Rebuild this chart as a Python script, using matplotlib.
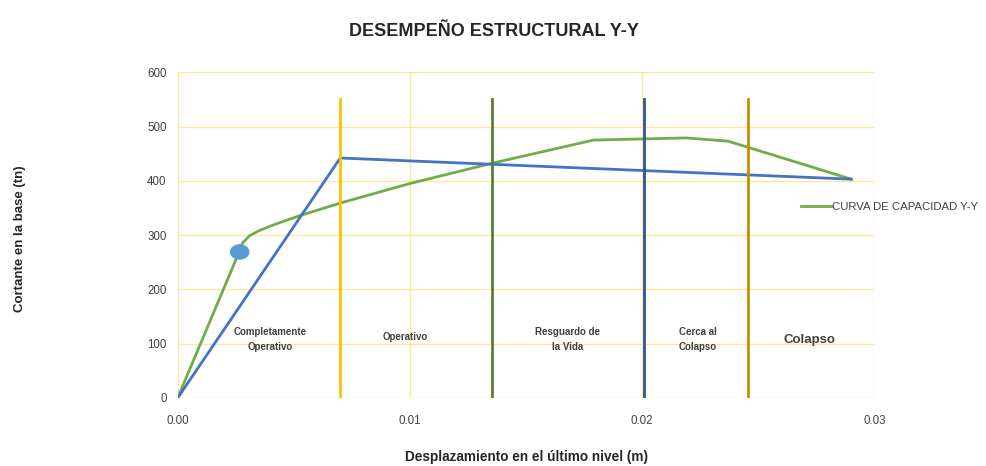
import numpy as np
import matplotlib
matplotlib.use('Agg')
import matplotlib.pyplot as plt
from matplotlib.patches import Ellipse

plt.rcParams['font.family'] = ['Liberation Sans', 'DejaVu Sans']

# Curva de capacidad (verde)
cap_x = [0.0, 0.0025, 0.0028, 0.0031, 0.0035, 0.0042, 0.0052, 0.0070, 0.0100, 0.0135, 0.0179, 0.0219, 0.0237, 0.0290]
cap_y = [0, 254, 286, 299, 308, 320, 335, 359, 395, 432, 475, 479, 473, 403]

# Curva bilineal (azul)
bil_x = [0.0, 0.0070, 0.0290]
bil_y = [0, 442, 403]

# Punto de desempeño
pt_x, pt_y = 0.00267, 269

# Limites de niveles de desempeño
lim_x = [0.0070, 0.01353, 0.02009, 0.02457]
lim_colors = ['#FFC000', '#548235', '#2F5597', '#BF9000']
lim_top = 550

# Etiquetas de zonas
zone_labels = ['Completamente\nOperativo', 'Operativo', 'Resguardo de\nla Vida', 'Cerca al\nColapso', 'Colapso']
zone_x = [0.0040, 0.0098, 0.0168, 0.0224, 0.0272]
zone_y = [107, 112, 107, 107, 107]
zone_size = [7, 7, 7, 7, 9.5]

fig = plt.figure(figsize=(9.87, 4.66), dpi=100)
ax = fig.add_axes([0.180, 0.146, 0.706, 0.699])

grid_c = '#FFE699'
for yv in range(0, 601, 100):
    ax.axhline(yv, color=grid_c, lw=1, zorder=0)
for xv in [0.0, 0.01, 0.02, 0.03]:
    ax.axvline(xv, color=grid_c, lw=1, zorder=0)

ax.plot(cap_x, cap_y, color='#70AD47', lw=2, label='CURVA DE CAPACIDAD Y-Y', zorder=3)
ax.plot(bil_x, bil_y, color='#4472C4', lw=2, zorder=3)

for xv, c in zip(lim_x, lim_colors):
    ax.plot([xv, xv], [0, lim_top], color=c, lw=2, zorder=4)

ax.add_patch(Ellipse((pt_x, pt_y), 0.00078, 26, color='#5B9BD5', zorder=5))

for lab, xv, yv, fs in zip(zone_labels, zone_x, zone_y, zone_size):
    ax.text(xv, yv, lab, ha='center', va='center', fontsize=fs,
            fontweight='bold', color='#404040', linespacing=1.6, zorder=6)

ax.set_xlim(0, 0.03)
ax.set_ylim(0, 600)
ax.set_xticks([0.0, 0.01, 0.02, 0.03])
ax.set_xticklabels(['0.00', '0.01', '0.02', '0.03'])
ax.set_yticks(range(0, 601, 100))
for s in ax.spines.values():
    s.set_visible(False)
ax.tick_params(length=0, labelsize=8.3, colors='#404040')
ax.tick_params(axis='x', pad=12)
ax.tick_params(axis='y', pad=8)

ax.set_xlabel('Desplazamiento en el último nivel (m)', fontsize=9.8, fontweight='bold',
              color='#262626', labelpad=17)
ax.set_ylabel('Cortante en la base (tn)', fontsize=9.5, fontweight='bold',
              color='#262626')
ax.yaxis.set_label_coords(-0.217, 0.49)

fig.suptitle('DESEMPEÑO ESTRUCTURAL Y-Y', x=0.5, y=0.95, fontsize=13,
             fontweight='bold', color='#262626')

leg = ax.legend(loc='center left', bbox_to_anchor=(0.88, 0.585), frameon=False,
                fontsize=8.2, handlelength=2.6, handletextpad=0.1)
for t in leg.get_texts():
    t.set_color('#404040')

fig.savefig('out.png', dpi=100)
